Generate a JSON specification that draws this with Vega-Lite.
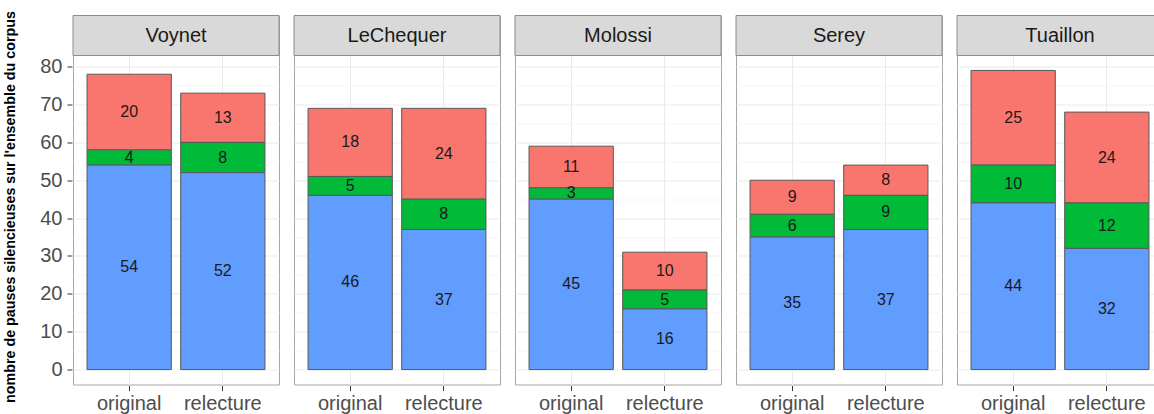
{
  "$schema": "https://vega.github.io/schema/vega-lite/v6.json",
  "padding": {"left": 2, "top": 10.5, "right": 0, "bottom": 0},
  "background": "white",
  "config": {
    "font": "Liberation Sans",
    "view": {"stroke": "#A6A6A6", "strokeWidth": 1}
  },
  "data": {
    "values": [
      {"author": "Voynet", "version": "original", "cat": "A", "n": 20},
      {"author": "Voynet", "version": "original", "cat": "B", "n": 4},
      {"author": "Voynet", "version": "original", "cat": "C", "n": 54},
      {"author": "Voynet", "version": "relecture", "cat": "A", "n": 13},
      {"author": "Voynet", "version": "relecture", "cat": "B", "n": 8},
      {"author": "Voynet", "version": "relecture", "cat": "C", "n": 52},
      {"author": "LeChequer", "version": "original", "cat": "A", "n": 18},
      {"author": "LeChequer", "version": "original", "cat": "B", "n": 5},
      {"author": "LeChequer", "version": "original", "cat": "C", "n": 46},
      {"author": "LeChequer", "version": "relecture", "cat": "A", "n": 24},
      {"author": "LeChequer", "version": "relecture", "cat": "B", "n": 8},
      {"author": "LeChequer", "version": "relecture", "cat": "C", "n": 37},
      {"author": "Molossi", "version": "original", "cat": "A", "n": 11},
      {"author": "Molossi", "version": "original", "cat": "B", "n": 3},
      {"author": "Molossi", "version": "original", "cat": "C", "n": 45},
      {"author": "Molossi", "version": "relecture", "cat": "A", "n": 10},
      {"author": "Molossi", "version": "relecture", "cat": "B", "n": 5},
      {"author": "Molossi", "version": "relecture", "cat": "C", "n": 16},
      {"author": "Serey", "version": "original", "cat": "A", "n": 9},
      {"author": "Serey", "version": "original", "cat": "B", "n": 6},
      {"author": "Serey", "version": "original", "cat": "C", "n": 35},
      {"author": "Serey", "version": "relecture", "cat": "A", "n": 8},
      {"author": "Serey", "version": "relecture", "cat": "B", "n": 9},
      {"author": "Serey", "version": "relecture", "cat": "C", "n": 37},
      {"author": "Tuaillon", "version": "original", "cat": "A", "n": 25},
      {"author": "Tuaillon", "version": "original", "cat": "B", "n": 10},
      {"author": "Tuaillon", "version": "original", "cat": "C", "n": 44},
      {"author": "Tuaillon", "version": "relecture", "cat": "A", "n": 24},
      {"author": "Tuaillon", "version": "relecture", "cat": "B", "n": 12},
      {"author": "Tuaillon", "version": "relecture", "cat": "C", "n": 32}
    ]
  },
  "transform": [
    {"stack": "n", "groupby": ["author", "version"], "sort": [{"field": "cat", "order": "descending"}], "as": ["y0", "y1"]},
    {"calculate": "(datum.y0 + datum.y1) / 2", "as": "ymid"}
  ],
  "facet": {
    "column": {
      "field": "author",
      "type": "nominal",
      "sort": ["Voynet", "LeChequer", "Molossi", "Serey", "Tuaillon"],
      "header": null
    }
  },
  "spacing": 13,
  "spec": {
    "width": 206,
    "height": 369,
    "resolve": {"axis": {"y": "independent"}},
    "layer": [
      {
        "mark": {"type": "bar", "stroke": "#595959", "strokeWidth": 1},
        "encoding": {
          "x": {
            "field": "version",
            "type": "nominal",
            "scale": {"paddingInner": 0.1, "paddingOuter": 0.15},
            "axis": {
              "title": null,
              "labelAngle": 0,
              "labelFontSize": 20,
              "labelColor": "#4D4D4D",
              "labelPadding": 3,
              "tickSize": 5,
              "tickColor": "#333333",
              "domain": false,
              "grid": true,
              "gridColor": "#EBEBEB",
              "gridWidth": 1
            }
          },
          "y": {
            "field": "y0",
            "type": "quantitative",
            "scale": {"domain": [-3.95, 93.515], "nice": false, "zero": false},
            "axis": {
              "values": [0, 10, 20, 30, 40, 50, 60, 70, 80],
              "title": "nombre de pauses silencieuses sur l'ensemble du corpus",
              "titleFontSize": 14.3,
              "titleFontWeight": "bold",
              "titleColor": "#000000",
              "titleX": -62,
              "titleY": 191,
              "titleBaseline": "middle",
              "labelFontSize": 20,
              "labelColor": "#4D4D4D",
              "labelPadding": 5,
              "tickSize": 5,
              "tickColor": "#333333",
              "domain": false,
              "grid": true,
              "gridColor": "#EBEBEB",
              "gridWidth": 1
            }
          },
          "y2": {"field": "y1"},
          "color": {
            "field": "cat",
            "type": "nominal",
            "scale": {"domain": ["A", "B", "C"], "range": ["#F8766D", "#00BA38", "#619CFF"]},
            "legend": null
          }
        }
      },
      {
        "mark": {"type": "text", "fontSize": 16, "color": "#1A1A1A"},
        "encoding": {
          "x": {"field": "version", "type": "nominal"},
          "y": {"field": "ymid", "type": "quantitative", "axis": null},
          "text": {"field": "n", "type": "quantitative"}
        }
      },
      {
        "transform": [{"aggregate": [{"op": "count", "as": "k"}], "groupby": ["author"]}],
        "mark": {"type": "rect", "fill": "#D9D9D9", "stroke": "#8C8C8C", "strokeWidth": 1},
        "encoding": {
          "y": {
            "datum": 82.95,
            "type": "quantitative",
            "axis": {
              "orient": "left",
              "values": [5, 15, 25, 35, 45, 55, 65, 75],
              "grid": true,
              "gridColor": "#F4F4F4",
              "gridWidth": 0.7,
              "labels": false,
              "ticks": false,
              "domain": false,
              "title": null
            }
          },
          "y2": {"datum": 93.515}
        }
      },
      {
        "transform": [{"aggregate": [{"op": "count", "as": "k"}], "groupby": ["author"]}],
        "mark": {"type": "text", "fontSize": 20, "color": "#1A1A1A"},
        "encoding": {
          "y": {"datum": 88.2, "type": "quantitative", "axis": null},
          "text": {"field": "author", "type": "nominal"}
        }
      }
    ]
  }
}
